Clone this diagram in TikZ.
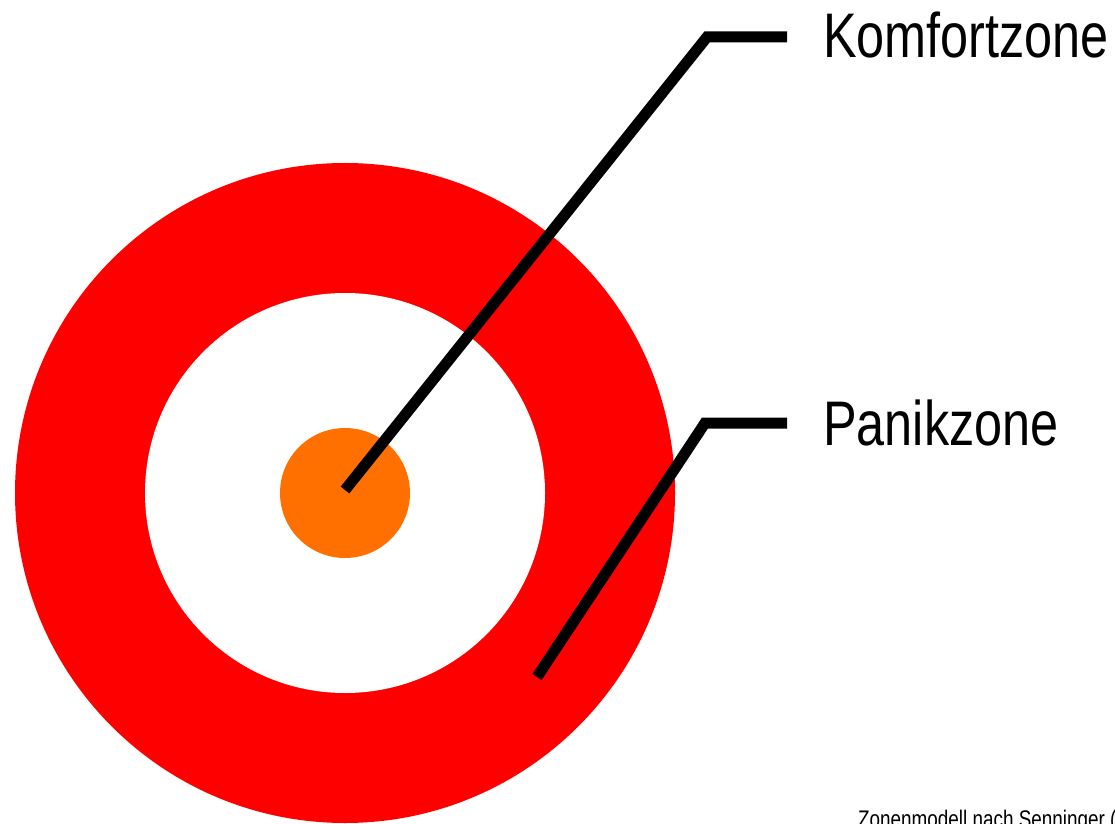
\documentclass[tikz,border=0pt]{standalone}
\usepackage{fontspec}
\setmainfont{Liberation Sans}
\definecolor{ringred}{RGB}{255,0,0}
\definecolor{coreorange}{RGB}{255,112,0}
\begin{document}
\begin{tikzpicture}[x=1pt,y=1pt,
  leader/.style={line width=11pt, black, line cap=butt, line join=miter},
  biglabel/.style={anchor=base west, inner sep=0pt, xscale=0.8, font=\fontsize{63}{70}\selectfont},
  smalllabel/.style={anchor=base west, inner sep=0pt, xscale=0.787, font=\fontsize{24}{28}\selectfont}]
\useasboundingbox (0,0) rectangle (1115,823);
\clip (0,0) rectangle (1115,823);
% rings (centre at 345,493 in image coordinates)
\fill[ringred] (345,330) circle (330);
\fill[white] (345,330) circle (200);
\fill[coreorange] (345,330) circle (65);
% anchor points
\coordinate (kstart) at (345,333);
\coordinate (kbend) at (707,786);
\coordinate (kend) at (787,786);
\coordinate (pstart) at (537,146);
\coordinate (pbend) at (705,400);
\coordinate (pend) at (787,400);
% labels
\node[biglabel] (komfort) at (823,765) {Komfortzone};
\node[biglabel] (panik) at (823,378) {Panikzone};
\node[smalllabel] (source) at (858,-4) {Zonenmodell nach Senninger (};
% leaders
\draw[leader] (kstart) -- (kbend) -- (kend);
\draw[leader] (pstart) -- (pbend) -- (pend);
\end{tikzpicture}
\end{document}
